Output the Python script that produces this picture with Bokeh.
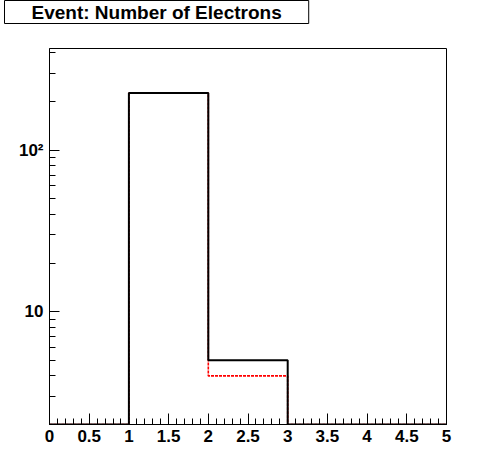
from bokeh.plotting import figure
from bokeh.models import FixedTicker, Range1d, Title
from bokeh.embed import file_html
from bokeh.resources import INLINE

# ---- data ----
bin_edges = [0, 1, 2, 3, 4, 5]
black_counts = [0, 226, 5, 0, 0]
red_counts = [0, 226, 4, 0, 0]

x_tick_values = [0, 0.5, 1, 1.5, 2, 2.5, 3, 3.5, 4, 4.5, 5]
x_tick_labels = ["0", "0.5", "1", "1.5", "2", "2.5", "3", "3.5", "4", "4.5", "5"]
x_minor_values = [i / 10 for i in range(0, 51)]

y_tick_values = [10, 100]
y_tick_labels = ["10", "10\u00b2"]
y_minor_values = [2, 3, 4, 5, 6, 7, 8, 9, 20, 30, 40, 50, 60, 70, 80, 90, 200, 300, 400]

y_min, y_max = 2, 426
title_text = "Event: Number of Electrons"

FONT = "Liberation Sans"

p = figure(width=496, height=472, output_backend="svg", toolbar_location=None,
           x_range=Range1d(0, 5), y_range=Range1d(y_min, y_max), y_axis_type="log",
           min_border_left=49, min_border_right=50, min_border_top=47, min_border_bottom=48)
p.xgrid.visible = False
p.ygrid.visible = False
p.background_fill_color = "white"
p.border_fill_color = "white"
p.outline_line_color = "black"
p.outline_line_width = 1


def hist_path(edges, counts, floor):
    xs = [edges[0]]
    ys = [floor]
    for i, c in enumerate(counts):
        c = max(c, floor)
        xs += [edges[i], edges[i + 1]]
        ys += [c, c]
    xs.append(edges[-1])
    ys.append(floor)
    return xs, ys


rx, ry = hist_path(bin_edges, red_counts, y_min)
p.line(rx, ry, line_color="red", line_width=1.6, line_dash="3 1")
bx, by = hist_path(bin_edges, black_counts, y_min)
p.line(bx, by, line_color="black", line_width=2)

for ax in (p.xaxis[0], p.yaxis[0]):
    ax.axis_line_color = "black"
    ax.axis_line_width = 1
    ax.major_tick_line_color = "black"
    ax.minor_tick_line_color = "black"
    ax.major_tick_out = 0
    ax.minor_tick_out = 0
    ax.major_label_text_font = FONT
    ax.major_label_text_font_style = "bold"
    ax.major_label_text_font_size = "17px"
    ax.major_label_text_color = "black"

xa = p.xaxis[0]
xa.ticker = FixedTicker(ticks=x_tick_values, minor_ticks=x_minor_values)
xa.major_label_overrides = {v: l for v, l in zip(x_tick_values, x_tick_labels)}
xa.major_tick_in = 11
xa.minor_tick_in = 6
xa.major_label_standoff = 5

ya = p.yaxis[0]
ya.ticker = FixedTicker(ticks=y_tick_values, minor_ticks=y_minor_values)
ya.major_label_overrides = {v: l for v, l in zip(y_tick_values, y_tick_labels)}
ya.major_tick_in = 10
ya.minor_tick_in = 6
ya.major_label_standoff = 6

p.title = Title(text=title_text, align="left", offset=-45, vertical_align="top",
                text_font=FONT, text_font_style="bold", text_font_size="19px",
                text_color="black", background_fill_color="white",
                border_line_color="black", border_line_width=1,
                padding=dict(left=27, right=27, top=1, bottom=1), standoff=0)

# invisible spacer between title box and frame
p.add_layout(Title(text=" ", text_font_size="1px", standoff=20), "above")

open("out.html", "w").write(file_html(p, INLINE))
